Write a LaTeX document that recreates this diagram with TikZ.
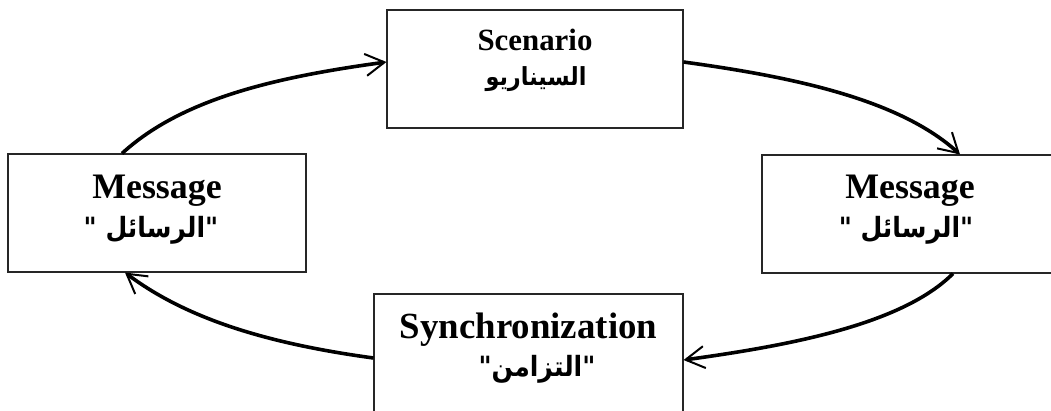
\documentclass[tikz,border=0pt]{standalone}
\usepackage{fontspec}
\setmainfont{Liberation Serif}
\newfontfamily\arabicfont[Script=Arabic, FakeStretch=0.9]{DejaVu Sans}
\TeXXeTstate=1
\usetikzlibrary{arrows.meta}
\tikzset{
  box/.style={draw=black!85, line width=1.1bp, inner sep=0pt},
  entext/.style={anchor=base, inner sep=0pt, font=\bfseries},
  artext/.style={anchor=base, inner sep=0pt, font=\arabicfont\bfseries\fontsize{28}{32}\selectfont},
  conn/.style={line width=3.6bp, -{Straight Barb[length=19bp,width=22bp,line width=2bp]}}
}
\begin{document}
\begin{tikzpicture}[x=1bp,y=-1bp]
\useasboundingbox (0,0) rectangle (1051,410);
\begin{scope}
\clip (0,0) rectangle (1051,410);
% boxes
\node[box, minimum width=296bp, minimum height=118bp] (sc) at (535,69) {};
\node[box, minimum width=298bp, minimum height=118bp] (lm) at (157,213) {};
\node[box, minimum width=296bp, minimum height=118bp] (rm) at (910,214) {};
\node[box, minimum width=309bp, minimum height=118bp] (sy) at (528.5,353) {};
\end{scope}
% texts
\node[entext, font=\bfseries\fontsize{31}{36}\selectfont] (scEn) at (535,50) {Scenario};
\node[artext, font=\arabicfont\bfseries\fontsize{25}{30}\selectfont] (scAr) at (536,85) {\beginR السيناريو\endR};
\node[entext, font=\bfseries\fontsize{36}{40}\selectfont] (lmEn) at (157,198) {Message};
\node[artext] (lmAr) at (151,237) {\beginR\mbox{"}الرسائل \mbox{"}\endR};
\node[entext, font=\bfseries\fontsize{36}{40}\selectfont] (rmEn) at (910,198) {Message};
\node[artext] (rmAr) at (906,237) {\beginR\mbox{"}الرسائل \mbox{"}\endR};
\node[entext, font=\bfseries\fontsize{37}{42}\selectfont] (syEn) at (528.5,338) {Synchronization};
\node[artext] (syAr) at (537,376) {\beginR\mbox{"}التزامن\mbox{"}\endR};
% connectors
\draw[conn] ([xshift=-35bp]lm.north) .. controls +(60,-55) and +(-110,15) .. ([yshift=7bp]sc.west);
\draw[conn] ([yshift=7bp]sc.east) .. controls +(110,15) and +(-60,-55) .. ([xshift=50bp]rm.north);
\draw[conn] ([xshift=43bp]rm.south) .. controls +(-50,50) and +(110,-15) .. ([yshift=-7bp]sy.east);
\draw[conn] ([yshift=-5bp]sy.west) .. controls +(-110,-15) and +(60,45) .. ([xshift=-32bp]lm.south);
\end{tikzpicture}
\end{document}
